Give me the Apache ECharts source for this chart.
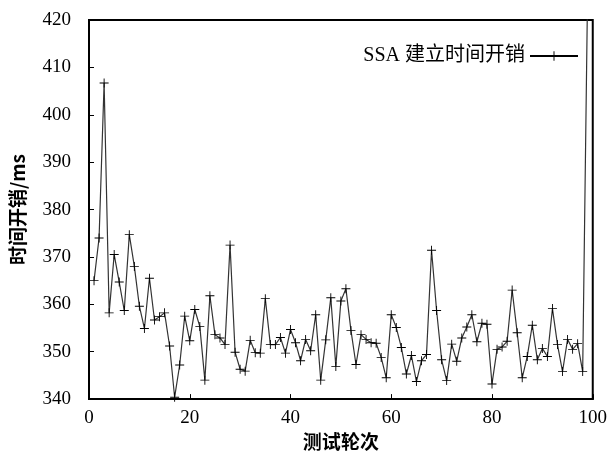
<!DOCTYPE html>
<html>
<head>
<meta charset="utf-8">
<script src="https://cdn.jsdelivr.net/npm/echarts@6/dist/echarts.min.js"></script>
<style>
  html, body { margin: 0; padding: 0; background: #fff; }
  #chart { width: 610px; height: 456px; }
</style>
</head>
<body>
<div id="chart"></div>
<script>
// 测试轮次 1..99
var rounds = [];
for (var i = 1; i <= 99; i++) rounds.push(i);

// SSA 建立时间开销 (ms)
var ssaCost = [
  365.0, 374.0, 406.7, 358.2, 370.5, 364.7, 358.7, 374.7, 368.0, 359.6,
  354.9, 365.5, 356.7, 357.4, 358.2, 351.2, 340.4, 347.2, 357.5, 352.3,
  358.9, 355.3, 344.0, 361.8, 353.6, 352.9, 351.5, 372.5, 349.9, 346.3,
  345.9, 352.4, 349.8, 349.7, 361.2, 351.5, 351.5, 353.0, 349.7, 354.7,
  351.9, 348.1, 352.6, 350.2, 357.8, 344.0, 352.5, 361.4, 346.9, 360.7,
  363.3, 354.5, 347.3, 353.6, 352.6, 351.9, 351.8, 348.8, 344.5, 357.8,
  355.1, 350.9, 345.3, 349.2, 343.7, 348.1, 349.4, 371.4, 358.7, 348.3,
  343.9, 351.6, 348.0, 352.9, 355.2, 357.8, 352.1, 356.0, 355.8, 343.2,
  350.5, 351.0, 352.2, 363.0, 354.0, 344.5, 349.0, 355.6, 348.3, 350.7,
  349.0, 359.1, 351.5, 345.8, 352.6, 350.5, 351.7, 345.8, 428.0
];

var seriesName = 'SSA 建立时间开销';
var plusPath = 'path://M-0.5,-5 H0.5 V-0.5 H5 V0.5 H0.5 V5 H-0.5 V0.5 H-5 V-0.5 H-0.5 Z';
var numFont = '"Liberation Serif", "Noto Sans CJK SC", serif';
var cjkFont = '"Noto Sans CJK SC", sans-serif';

var chart = echarts.init(document.getElementById('chart'));
chart.setOption({
  backgroundColor: '#fff',
  animation: false,
  grid: {
    left: 88, right: 14, top: 20, bottom: 54,
    show: true, borderColor: '#000', borderWidth: 2
  },
  legend: {
    right: 26, top: 41,
    align: 'right',
    itemWidth: 48, itemHeight: 12,
    itemStyle: { color: '#000' },
    lineStyle: { color: '#000', width: 2 },
    textStyle: { fontFamily: numFont, fontSize: 20, color: '#000' },
    data: [seriesName]
  },
  xAxis: {
    type: 'value',
    min: 0, max: 100, interval: 20,
    name: '测试轮次',
    nameLocation: 'middle',
    nameGap: 28,
    nameTextStyle: { fontFamily: cjkFont, fontSize: 19, fontWeight: 'bold', color: '#000' },
    axisLine: { lineStyle: { color: '#000', width: 2 } },
    axisTick: { inside: true, length: 5, lineStyle: { color: '#000', width: 1 } },
    axisLabel: { margin: 9, fontFamily: numFont, fontSize: 19, color: '#000' },
    splitLine: { show: false }
  },
  yAxis: {
    type: 'value',
    min: 340, max: 420, interval: 10,
    name: '时间开销/ms',
    nameLocation: 'middle',
    nameGap: 62,
    nameTextStyle: { fontFamily: cjkFont, fontSize: 19, fontWeight: 'bold', color: '#000' },
    axisLine: { show: true, lineStyle: { color: '#000', width: 2 } },
    axisTick: { inside: true, length: 5, lineStyle: { color: '#000', width: 1 } },
    axisLabel: { margin: 18, fontFamily: numFont, fontSize: 19, color: '#000' },
    splitLine: { show: false }
  },
  series: [{
    name: seriesName,
    type: 'line',
    data: rounds.map(function (r, i) { return [r, ssaCost[i]]; }),
    symbol: plusPath,
    symbolSize: 9,
    showAllSymbol: true,
    clip: true,
    lineStyle: { color: '#333', width: 1.2 },
    itemStyle: { color: '#000' }
  }]
});
</script>
</body>
</html>
